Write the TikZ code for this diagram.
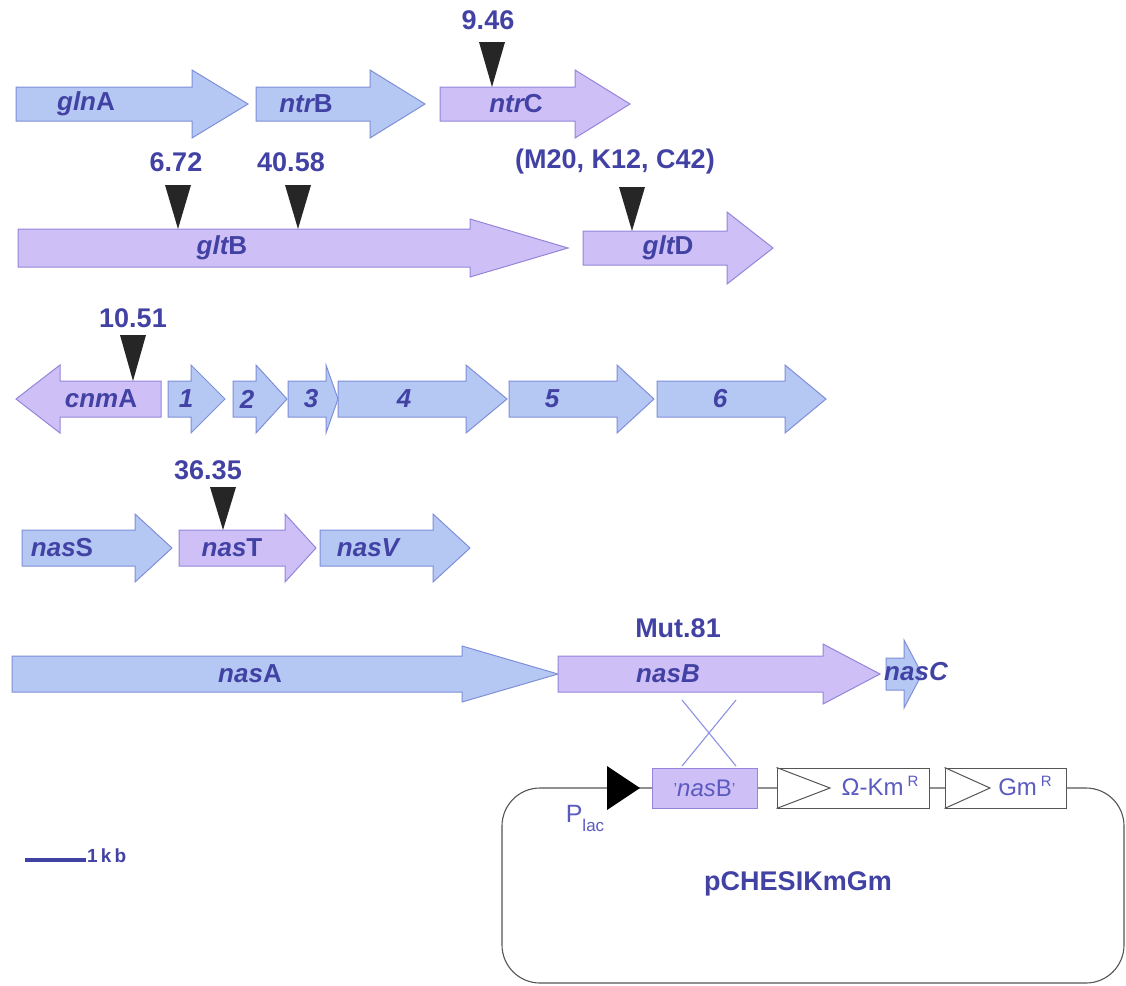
\documentclass[tikz,border=0pt]{standalone}
\usepackage{fontspec}
\setmainfont{Liberation Sans}
\definecolor{bfill}{HTML}{B5C8F4}
\definecolor{bedge}{HTML}{7F8FD8}
\definecolor{pfill}{HTML}{CEC0F7}
\definecolor{pedge}{HTML}{9585DA}
\definecolor{txt}{HTML}{4242A4}
\definecolor{ltxt}{HTML}{5A5AC0}
\definecolor{mark}{HTML}{262626}
\definecolor{plas}{HTML}{555555}
\definecolor{xline}{HTML}{8C92E2}
\tikzset{
  bgene/.style={fill=bfill, draw=bedge, line width=1pt, line join=miter},
  pgene/.style={fill=pfill, draw=pedge, line width=1pt, line join=miter},
  glabel/.style={text=txt, font=\fontsize{26}{28}\selectfont\bfseries, inner sep=0pt},
  num/.style={text=txt, font=\fontsize{27}{29}\selectfont\bfseries, inner sep=0pt},
  plain/.style={text=ltxt, font=\fontsize{25}{27}\selectfont, inner sep=0pt},
  mk/.style={fill=mark, draw=none},
  cassette/.style={draw=plas, fill=white, line width=1pt, minimum height=40pt, inner sep=0pt},
}
% style, x0, head base, tip, y centre, body half height, head half height
\newcommand\rgene[7]{\draw[#1] (#2,#5-#6) -- (#3,#5-#6) -- (#3,#5-#7) -- (#4,#5) -- (#3,#5+#7) -- (#3,#5+#6) -- (#2,#5+#6) -- cycle;}
\newcommand\mutmark[3]{\fill[mk] (#1-13,#2) -- (#1+13,#2) -- (#1,#3) -- cycle;}
\begin{document}
\begin{tikzpicture}[x=1pt,y=-1pt]
\useasboundingbox (0,0) rectangle (1126,985);
% ---- row 1
\rgene{bgene}{16}{192}{248}{104}{17}{34}
\rgene{bgene}{256}{370}{425}{104}{17}{34}
\rgene{pgene}{440}{575}{630}{104}{17}{34}
\node[glabel] (glnA) at (86,104) {\itshape gln\upshape A};
\node[glabel] (ntrB) at (306,104) {\itshape ntr\upshape B};
\node[glabel] (ntrC) at (516,104) {\itshape ntr\upshape C};
\mutmark{492}{42}{87}
\node[num] (m946) at (488,20) {9.46};
% ---- row 2
\rgene{pgene}{18}{470}{568}{248}{19}{29}
\rgene{pgene}{583}{727}{773}{248}{17}{36}
\node[glabel] (gltB) at (222,248) {\itshape glt\upshape B};
\node[glabel] (gltD) at (668,248) {\itshape glt\upshape D};
\mutmark{178}{185}{229}
\mutmark{298}{185}{229}
\mutmark{632}{187}{231}
\node[num] (m672) at (176,162) {6.72};
\node[num] (m4058) at (291,162) {40.58};
\node[num] (m20) at (615,162) {(M20, K12, C42)};
% ---- row 3
\draw[pgene] (161,381) -- (60,381) -- (60,365) -- (16,399) -- (60,433) -- (60,417) -- (161,417) -- cycle;
\rgene{bgene}{168}{191}{225}{399}{18}{34}
\rgene{bgene}{233}{256}{287}{399}{18}{34}
\rgene{bgene}{288}{326}{338}{399}{18}{34}
\rgene{bgene}{338}{466}{507}{399}{18}{34}
\rgene{bgene}{509}{617}{654}{399}{18}{34}
\rgene{bgene}{657}{785}{826}{399}{18}{34}
\node[glabel] (cnmA) at (101,399) {\itshape cnm\upshape A};
\node[glabel] (g1) at (186,399) {\itshape 1};
\node[glabel] (g2) at (247,399) {\itshape 2};
\node[glabel] (g3) at (311,399) {\itshape 3};
\node[glabel] (g4) at (404,399) {\itshape 4};
\node[glabel] (g5) at (552,399) {\itshape 5};
\node[glabel] (g6) at (720,399) {\itshape 6};
\mutmark{133}{335}{381}
\node[num] (m1051) at (133,318) {10.51};
% ---- row 4
\rgene{bgene}{22}{135}{172}{548}{18}{34}
\rgene{pgene}{179}{285}{316}{548}{18}{34}
\rgene{bgene}{320}{433}{470}{548}{18}{34}
\node[glabel] (nasS) at (62,548) {\itshape nas\upshape S};
\node[glabel] (nasT) at (232,548) {\itshape nas\upshape T};
\node[glabel] (nasV) at (368,548) {\itshape nasV};
\mutmark{223}{487}{530}
\node[num] (m3635) at (208,470) {36.35};
% ---- row 5
\rgene{bgene}{12}{462}{558}{674}{18}{28}
\rgene{pgene}{558}{823}{880}{674}{18}{30}
\rgene{bgene}{886}{904}{922}{674}{16}{34}
\node[glabel] (nasA) at (250,674) {\itshape nas\upshape A};
\node[glabel] (nasB) at (668,674) {\itshape nasB};
\node[glabel, anchor=west] (nasC) at (884,672) {\itshape nasC};
\node[num] (mut) at (678,628) {Mut.81};
% ---- crossover
\coordinate (c1) at (682,700);
\coordinate (c2) at (736,766);
\coordinate (c3) at (736,700);
\coordinate (c4) at (682,766);
\draw[xline, line width=1.1pt] (c1) -- (c2);
\draw[xline, line width=1.1pt] (c3) -- (c4);
% ---- plasmid
\draw[plas, line width=1.1pt, rounded corners=38pt] (502,788) rectangle (1124,983);
\fill[black] (607,766) -- (640,788) -- (607,810) -- cycle;
\node[plain] (plac) at (585,818) {P\raisebox{-9pt}{\fontsize{17}{17}\selectfont lac}};
\node[draw=pedge, fill=pfill, line width=1pt, minimum width=105pt, minimum height=40pt, inner sep=0pt, text=ltxt, font=\fontsize{24}{26}\selectfont] (nbox) at (704.5,788) {\raisebox{2pt}{\fontsize{16}{16}\selectfont'}\textit{nas}B\raisebox{2pt}{\fontsize{16}{16}\selectfont'}};
\node[cassette, minimum width=152pt] (km) at (853,788) {};
\node[cassette, minimum width=121pt] (gm) at (1005.5,788) {};
\draw[plas, line width=1pt] (km.north west) -- (830,788) -- (km.south west);
\draw[plas, line width=1pt] (gm.north west) -- (990,788) -- (gm.south west);
\node[text=ltxt, font=\fontsize{24}{26}\selectfont, inner sep=0pt] (kmt) at (880,786) {Ω-Km\,\raisebox{9pt}{\fontsize{15}{15}\selectfont R}};
\node[text=ltxt, font=\fontsize{24}{26}\selectfont, inner sep=0pt] (gmt) at (1025,786) {Gm\,\raisebox{9pt}{\fontsize{15}{15}\selectfont R}};
\node[num] (plasmid) at (798,884) {pCHESIKmGm};
% ---- scale bar
\coordinate (sb1) at (25,860);
\coordinate (sb2) at (86,860);
\draw[txt, line width=3.5pt] (sb1) -- (sb2);
\node[text=txt, font=\fontsize{19}{21}\selectfont\bfseries, anchor=south west, inner sep=0pt] (kb) at (87,863) {1\,k\,b};
\end{tikzpicture}
\end{document}
